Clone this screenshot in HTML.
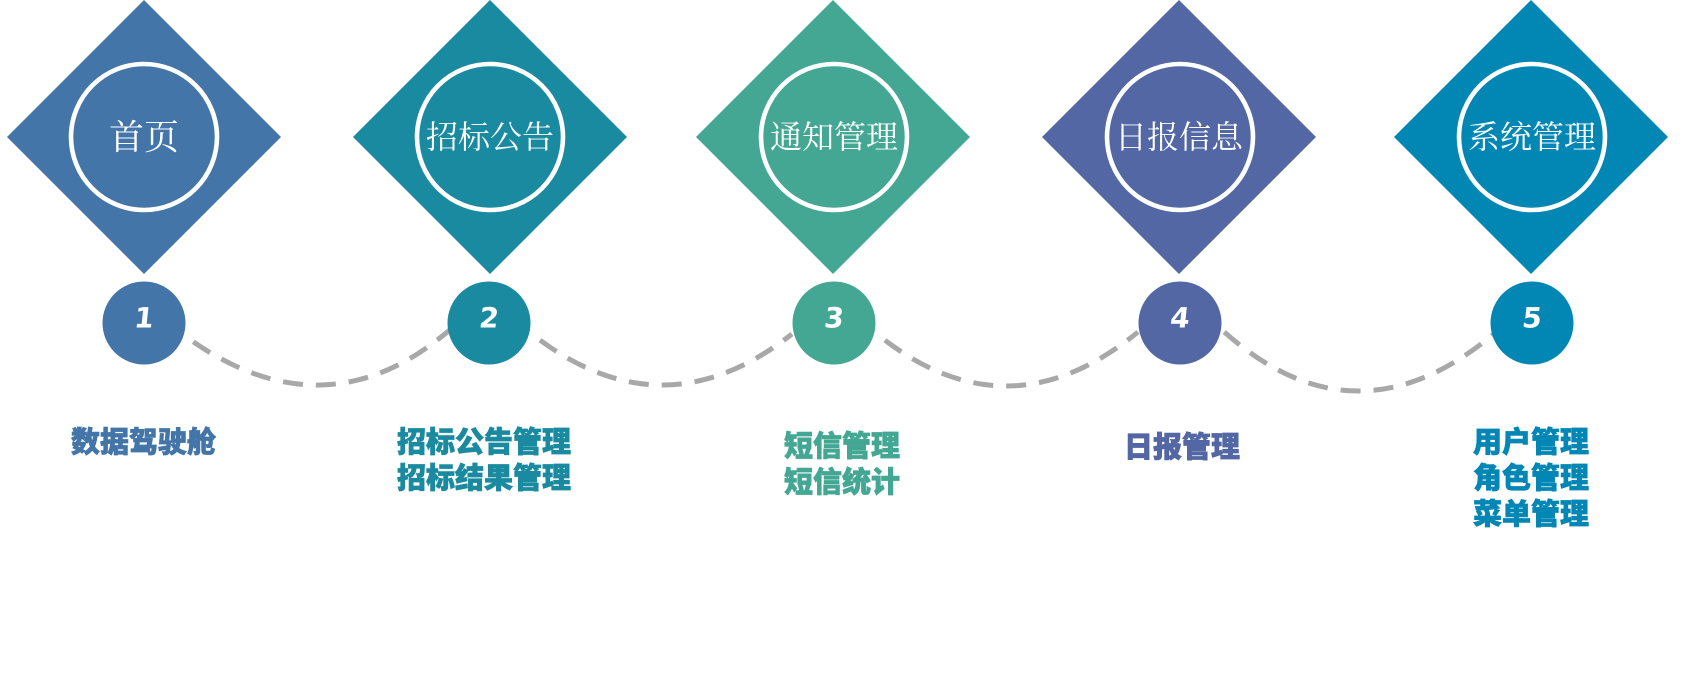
<!DOCTYPE html>
<html>
<head>
<meta charset="utf-8">
<style>
  html, body { margin: 0; padding: 0; background: #ffffff; }
  body { width: 1688px; height: 692px; overflow: hidden; }
  svg { display: block; }
  .dt { font-family: "Liberation Serif", "Noto Serif CJK SC", "Noto Sans CJK SC", serif; fill: #ffffff; font-weight: 400; }
  .num { font-family: "DejaVu Sans", "Liberation Sans", sans-serif; font-weight: bold; fill: #ffffff; font-size: 28px; }
  .lbl { font-family: "Liberation Sans", "Noto Sans CJK SC", sans-serif; font-weight: 900; font-size: 29px; stroke-width: 0.7; }
</style>
</head>
<body>
<svg width="1688" height="692" viewBox="0 0 1688 692" xmlns="http://www.w3.org/2000/svg">
  <rect width="1688" height="692" fill="#ffffff"/>

  <!-- dashed arcs -->
  <g fill="none" stroke="#a8a8a8" stroke-width="5" stroke-dasharray="20 13">
    <path d="M185,336 Q325.5,438 452,328" stroke-dashoffset="23"/>
    <path d="M532,334 Q662,436 792,334" stroke-dashoffset="23"/>
    <path d="M877,334 Q1007,439 1138,332" stroke-dashoffset="23"/>
    <path d="M1222,330 Q1356,451 1496,332" stroke-dashoffset="30"/>
  </g>

  <!-- diamonds -->
  <polygon points="144,0 281,137 144,274 7,137" fill="#4475a8"/>
  <polygon points="490,0 627,137 490,274 353,137" fill="#1a8aa0"/>
  <polygon points="833,0 970,137 833,274 696,137" fill="#43a793"/>
  <polygon points="1179,0 1316,137 1179,274 1042,137" fill="#5267a3"/>
  <polygon points="1531,0 1668,137 1531,274 1394,137" fill="#0287b5"/>

  <!-- inner rings -->
  <g fill="none" stroke="#ffffff" stroke-width="4.6">
    <circle cx="144" cy="137" r="73"/>
    <circle cx="490" cy="137" r="73"/>
    <circle cx="834" cy="137" r="73"/>
    <circle cx="1180" cy="137" r="73"/>
    <circle cx="1532" cy="137" r="73"/>
  </g>

  <!-- diamond titles -->
  <text class="dt" x="144" y="138" font-size="35" text-anchor="middle" dominant-baseline="central">首页</text>
  <text class="dt" x="490" y="137" font-size="32" text-anchor="middle" dominant-baseline="central">招标公告</text>
  <text class="dt" x="834" y="137" font-size="32" text-anchor="middle" dominant-baseline="central">通知管理</text>
  <text class="dt" x="1179" y="137" font-size="32" text-anchor="middle" dominant-baseline="central">日报信息</text>
  <text class="dt" x="1532" y="137" font-size="32" text-anchor="middle" dominant-baseline="central">系统管理</text>

  <!-- number circles -->
  <circle cx="144" cy="323" r="41.5" fill="#4475a8"/>
  <circle cx="489" cy="323" r="41.5" fill="#1a8aa0"/>
  <circle cx="834" cy="323" r="41.5" fill="#43a793"/>
  <circle cx="1180" cy="323" r="41.5" fill="#5267a3"/>
  <circle cx="1532" cy="323" r="41.5" fill="#0287b5"/>

  <text class="num" x="144" y="318" text-anchor="middle" dominant-baseline="central" transform="skewX(-6) translate(33.5,0)">1</text>
  <text class="num" x="489" y="318" text-anchor="middle" dominant-baseline="central" transform="skewX(-6) translate(33.5,0)">2</text>
  <text class="num" x="834" y="318" text-anchor="middle" dominant-baseline="central" transform="skewX(-6) translate(33.5,0)">3</text>
  <text class="num" x="1180" y="318" text-anchor="middle" dominant-baseline="central" transform="skewX(-6) translate(33.5,0)">4</text>
  <text class="num" x="1532" y="318" text-anchor="middle" dominant-baseline="central" transform="skewX(-6) translate(33.5,0)">5</text>

  <!-- bottom labels -->
  <g class="lbl" dominant-baseline="central">
    <text x="71" y="443" fill="#4475a8" stroke="#4475a8">数据驾驶舱</text>

    <text x="397" y="443" fill="#1a8aa0" stroke="#1a8aa0">招标公告管理</text>
    <text x="397" y="479" fill="#1a8aa0" stroke="#1a8aa0">招标结果管理</text>

    <text x="784" y="447" fill="#43a793" stroke="#43a793">短信管理</text>
    <text x="784" y="483" fill="#43a793" stroke="#43a793">短信统计</text>

    <text x="1124" y="448" fill="#5267a3" stroke="#5267a3">日报管理</text>

    <text x="1473" y="443" fill="#0287b5" stroke="#0287b5">用户管理</text>
    <text x="1473" y="479" fill="#0287b5" stroke="#0287b5">角色管理</text>
    <text x="1473" y="515" fill="#0287b5" stroke="#0287b5">菜单管理</text>
  </g>
</svg>
</body>
</html>
